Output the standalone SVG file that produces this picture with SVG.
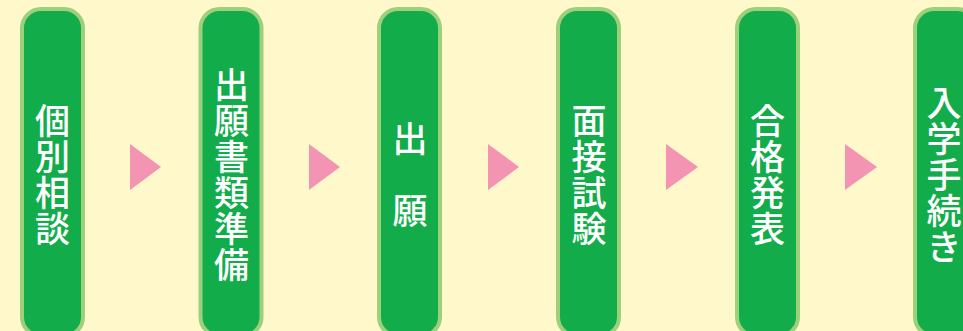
<svg xmlns="http://www.w3.org/2000/svg" width="963" height="331" viewBox="0 0 963 331">
<style>
.box{fill:#12AC4A;stroke:#9DD07B;stroke-width:4}
.lbl{fill:#FFFFFF;font-family:"Noto Sans CJK JP","Noto Sans CJK SC",sans-serif;font-size:35px;font-weight:500;text-anchor:middle;dominant-baseline:central}
.arr{fill:#F294B2}
</style>
<rect x="0" y="0" width="963" height="331" fill="#FFF8CB"/>
<g id="connectors">
<polygon class="arr" points="130,144 161,167 130,190"/>
<polygon class="arr" points="309,144 340,167 309,190"/>
<polygon class="arr" points="488,144 519,167 488,190"/>
<polygon class="arr" points="666,144 698,167 666,190"/>
<polygon class="arr" points="845,144 877,167 845,190"/>
</g>
<g id="node1">
<rect class="box" x="22" y="9" width="61" height="327" rx="19"/>
<text class="lbl"><tspan x="52.5" y="118">個</tspan><tspan x="52.5" y="154">別</tspan><tspan x="52.5" y="190">相</tspan><tspan x="52.5" y="226">談</tspan></text>
</g>
<g id="node2">
<rect class="box" x="200.5" y="9" width="61" height="327" rx="19"/>
<text class="lbl"><tspan x="231.5" y="82">出</tspan><tspan x="231.5" y="118">願</tspan><tspan x="231.5" y="154">書</tspan><tspan x="231.5" y="190">類</tspan><tspan x="231.5" y="226">準</tspan><tspan x="231.5" y="262">備</tspan></text>
</g>
<g id="node3">
<rect class="box" x="379" y="9" width="61" height="327" rx="19"/>
<text class="lbl"><tspan x="410" y="136">出</tspan><tspan x="410" y="208">願</tspan></text>
</g>
<g id="node4">
<rect class="box" x="558" y="9" width="61" height="327" rx="19"/>
<text class="lbl"><tspan x="589" y="118">面</tspan><tspan x="589" y="154">接</tspan><tspan x="589" y="190">試</tspan><tspan x="589" y="226">験</tspan></text>
</g>
<g id="node5">
<rect class="box" x="737" y="9" width="61" height="327" rx="19"/>
<text class="lbl"><tspan x="767.5" y="118">合</tspan><tspan x="767.5" y="154">格</tspan><tspan x="767.5" y="190">発</tspan><tspan x="767.5" y="226">表</tspan></text>
</g>
<g id="node6">
<rect class="box" x="915" y="9" width="61" height="327" rx="19"/>
<text class="lbl"><tspan x="944" y="100">入</tspan><tspan x="944" y="136">学</tspan><tspan x="944" y="172">手</tspan><tspan x="944" y="208">続</tspan><tspan x="944" y="244">き</tspan></text>
</g>
</svg>
